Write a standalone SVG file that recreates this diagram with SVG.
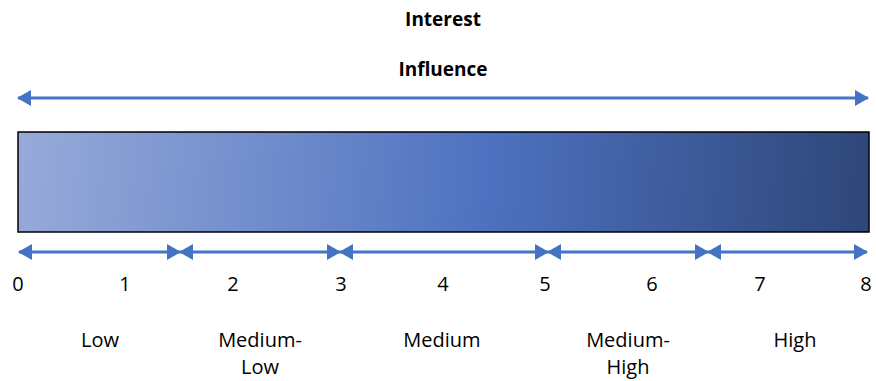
<svg xmlns="http://www.w3.org/2000/svg" width="876" height="381" viewBox="0 0 876 381">
<style>
.t{font-family:"Open Sans","Liberation Sans",sans-serif;font-size:20px;fill:#000;text-anchor:middle}
.b{font-weight:bold;font-size:19px}
.ln{stroke:#4472C4;stroke-width:3;fill:none}
</style>
<defs>
<linearGradient id="g" gradientUnits="userSpaceOnUse" x1="18" y1="150" x2="869" y2="214">
<stop offset="0" stop-color="#97AAD9"/>
<stop offset="0.55" stop-color="#4E72C0"/>
<stop offset="1" stop-color="#2E4679"/>
</linearGradient>
<marker id="a" viewBox="0 0 14 16" refX="13" refY="8" markerWidth="14" markerHeight="16" markerUnits="userSpaceOnUse" orient="auto-start-reverse">
<path d="M0,0 L14,8 L0,16 Z" fill="#4472C4"/>
</marker>
</defs>
<g id="title">
<text class="t b" x="443" y="26">Interest</text>
<text class="t b" x="443" y="76">Influence</text>
</g>
<g id="bar">
<rect x="18" y="132" width="851" height="100" fill="url(#g)" stroke="#000" stroke-width="1.5"/>
</g>
<g id="connectors">
<line class="ln" x1="18" y1="98" x2="868" y2="98" marker-start="url(#a)" marker-end="url(#a)"/>
<line class="ln" x1="19" y1="252" x2="180" y2="252" marker-start="url(#a)" marker-end="url(#a)"/>
<line class="ln" x1="180" y1="252" x2="340" y2="252" marker-start="url(#a)" marker-end="url(#a)"/>
<line class="ln" x1="340" y1="252" x2="548" y2="252" marker-start="url(#a)" marker-end="url(#a)"/>
<line class="ln" x1="548" y1="252" x2="708" y2="252" marker-start="url(#a)" marker-end="url(#a)"/>
<line class="ln" x1="708" y1="252" x2="867" y2="252" marker-start="url(#a)" marker-end="url(#a)"/>
</g>
<g id="scale">
<text class="t" x="18" y="291">0</text>
<text class="t" x="125" y="291">1</text>
<text class="t" x="233" y="291">2</text>
<text class="t" x="341" y="291">3</text>
<text class="t" x="443" y="291">4</text>
<text class="t" x="545" y="291">5</text>
<text class="t" x="652" y="291">6</text>
<text class="t" x="760" y="291">7</text>
<text class="t" x="866" y="291">8</text>
</g>
<g id="low"><text class="t" x="100" y="347">Low</text></g>
<g id="medium-low"><text class="t" x="260" y="347">Medium-</text><text class="t" x="260" y="374">Low</text></g>
<g id="medium"><text class="t" x="442" y="347">Medium</text></g>
<g id="medium-high"><text class="t" x="628" y="347">Medium-</text><text class="t" x="628" y="374">High</text></g>
<g id="high"><text class="t" x="795" y="347">High</text></g>
</svg>
